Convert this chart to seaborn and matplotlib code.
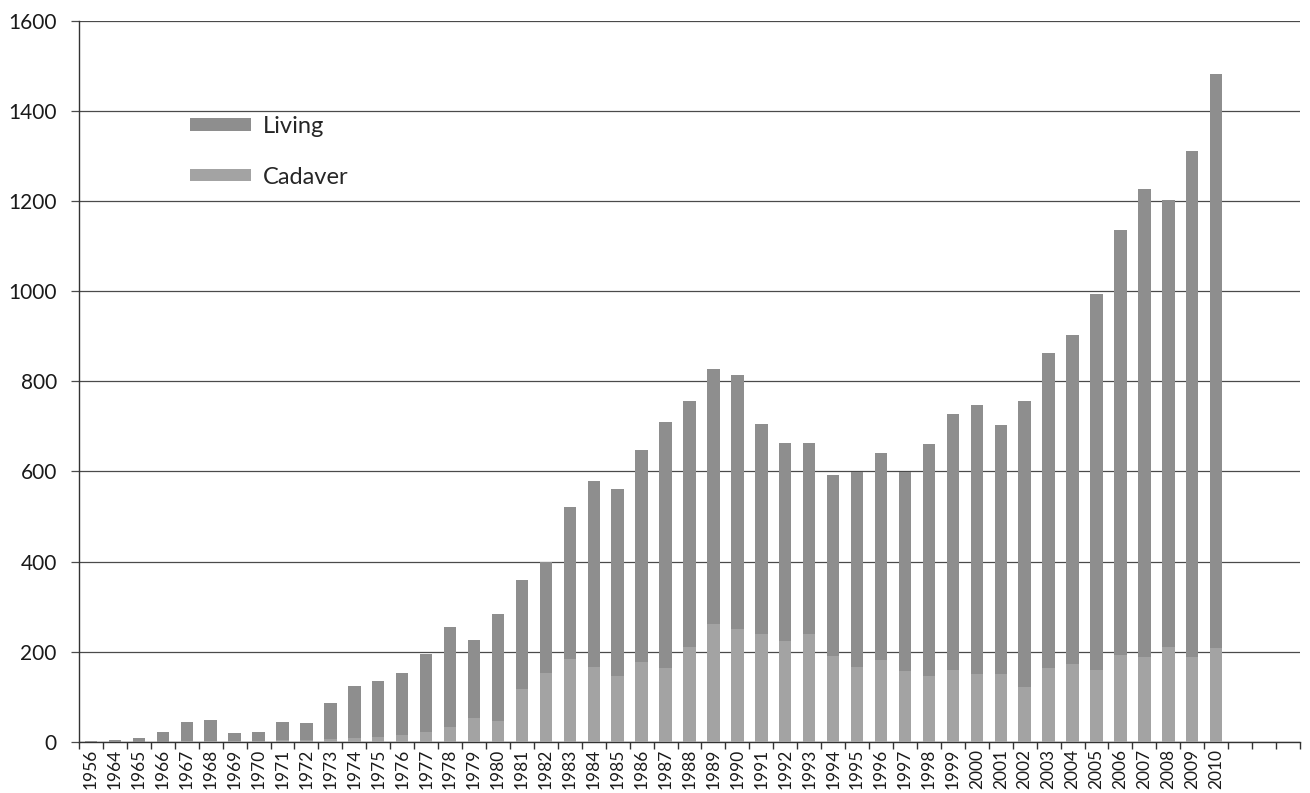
import matplotlib
matplotlib.use("Agg")
import matplotlib.pyplot as plt
import seaborn as sns
import pandas as pd
import numpy as np

years = ["1956", "1964", "1965", "1966", "1967", "1968", "1969", "1970", "1971", "1972",
         "1973", "1974", "1975", "1976", "1977", "1978", "1979", "1980", "1981", "1982",
         "1983", "1984", "1985", "1986", "1987", "1988", "1989", "1990", "1991", "1992",
         "1993", "1994", "1995", "1996", "1997", "1998", "1999", "2000", "2001", "2002",
         "2003", "2004", "2005", "2006", "2007", "2008", "2009", "2010"]

totals = [1, 3, 9, 21, 43, 48, 19, 21, 43, 42,
          86, 124, 134, 153, 195, 255, 226, 283, 358, 398,
          521, 578, 560, 648, 710, 756, 828, 813, 705, 664,
          663, 593, 598, 640, 598, 660, 727, 748, 704, 757,
          864, 902, 994, 1137, 1228, 1203, 1311, 1483]

cadaver = [0, 0, 0, 0, 1, 2, 1, 2, 3, 4,
           6, 8, 10, 15, 22, 33, 53, 47, 117, 153,
           184, 165, 146, 178, 163, 210, 262, 250, 238, 224,
           240, 190, 165, 182, 158, 146, 160, 150, 150, 121,
           164, 173, 160, 192, 188, 210, 187, 207]

y_ticks = [0, 200, 400, 600, 800, 1000, 1200, 1400, 1600]

living_color = "#8e8e8e"
cadaver_color = "#a3a3a3"
grid_color = "#4a4a4a"

sns.set_theme(style="white")
plt.rcParams['font.family'] = ['Lato', 'DejaVu Sans']

W, H = 1310, 793
fig = plt.figure(figsize=(W / 100, H / 100), dpi=100)
ax = fig.add_axes([79 / W, 1 - 741.7 / H, (1300 - 79) / W, (741.7 - 21) / H])

df = pd.DataFrame({"year": years, "total": totals, "cadaver": cadaver})
sns.barplot(data=df, x="year", y="total", color=living_color, width=0.52,
            saturation=1, linewidth=0, ax=ax, label="Living", zorder=3)
sns.barplot(data=df, x="year", y="cadaver", color=cadaver_color, width=0.52,
            saturation=1, linewidth=0, ax=ax, label="Cadaver", zorder=4)

ax.set_xlim(-0.5, 50.5)
ax.set_ylim(0, 1600)
ax.set_xlabel("")
ax.set_ylabel("")

ax.set_yticks(y_ticks)
ax.set_yticklabels([str(v) for v in y_ticks], fontsize=15, color="#1a1a1a")
ax.yaxis.grid(True, color=grid_color, linewidth=0.9, zorder=0)
ax.set_axisbelow(True)

ax.set_xticks(np.arange(-0.5, 51.0, 1.0))
ax.set_xticklabels([])
ax.set_xticks(np.arange(len(years)), labels=years, minor=True)
ax.tick_params(axis="x", which="minor", length=0, pad=5, labelsize=12.5,
               labelrotation=90, labelcolor="#1a1a1a")
ax.tick_params(axis="x", which="major", length=5, width=1, color="#333333",
               direction="out", bottom=True)
ax.tick_params(axis="y", which="major", length=6, width=0.9, color=grid_color,
               direction="out", left=True, pad=10)

for s in ["top", "right"]:
    ax.spines[s].set_visible(False)
ax.spines["left"].set_color("#333333")
ax.spines["bottom"].set_color("#333333")
ax.spines["left"].set_linewidth(1)
ax.spines["bottom"].set_linewidth(1)

ax.legend(loc="upper left", bbox_to_anchor=(190 / W, 1 - 116 / H),
          bbox_transform=fig.transFigure, frameon=False, fontsize=17,
          handlelength=2.6, handleheight=0.45, labelspacing=1.25,
          handletextpad=0.5, borderpad=0, borderaxespad=0)

fig.savefig("out.png", dpi=100)
